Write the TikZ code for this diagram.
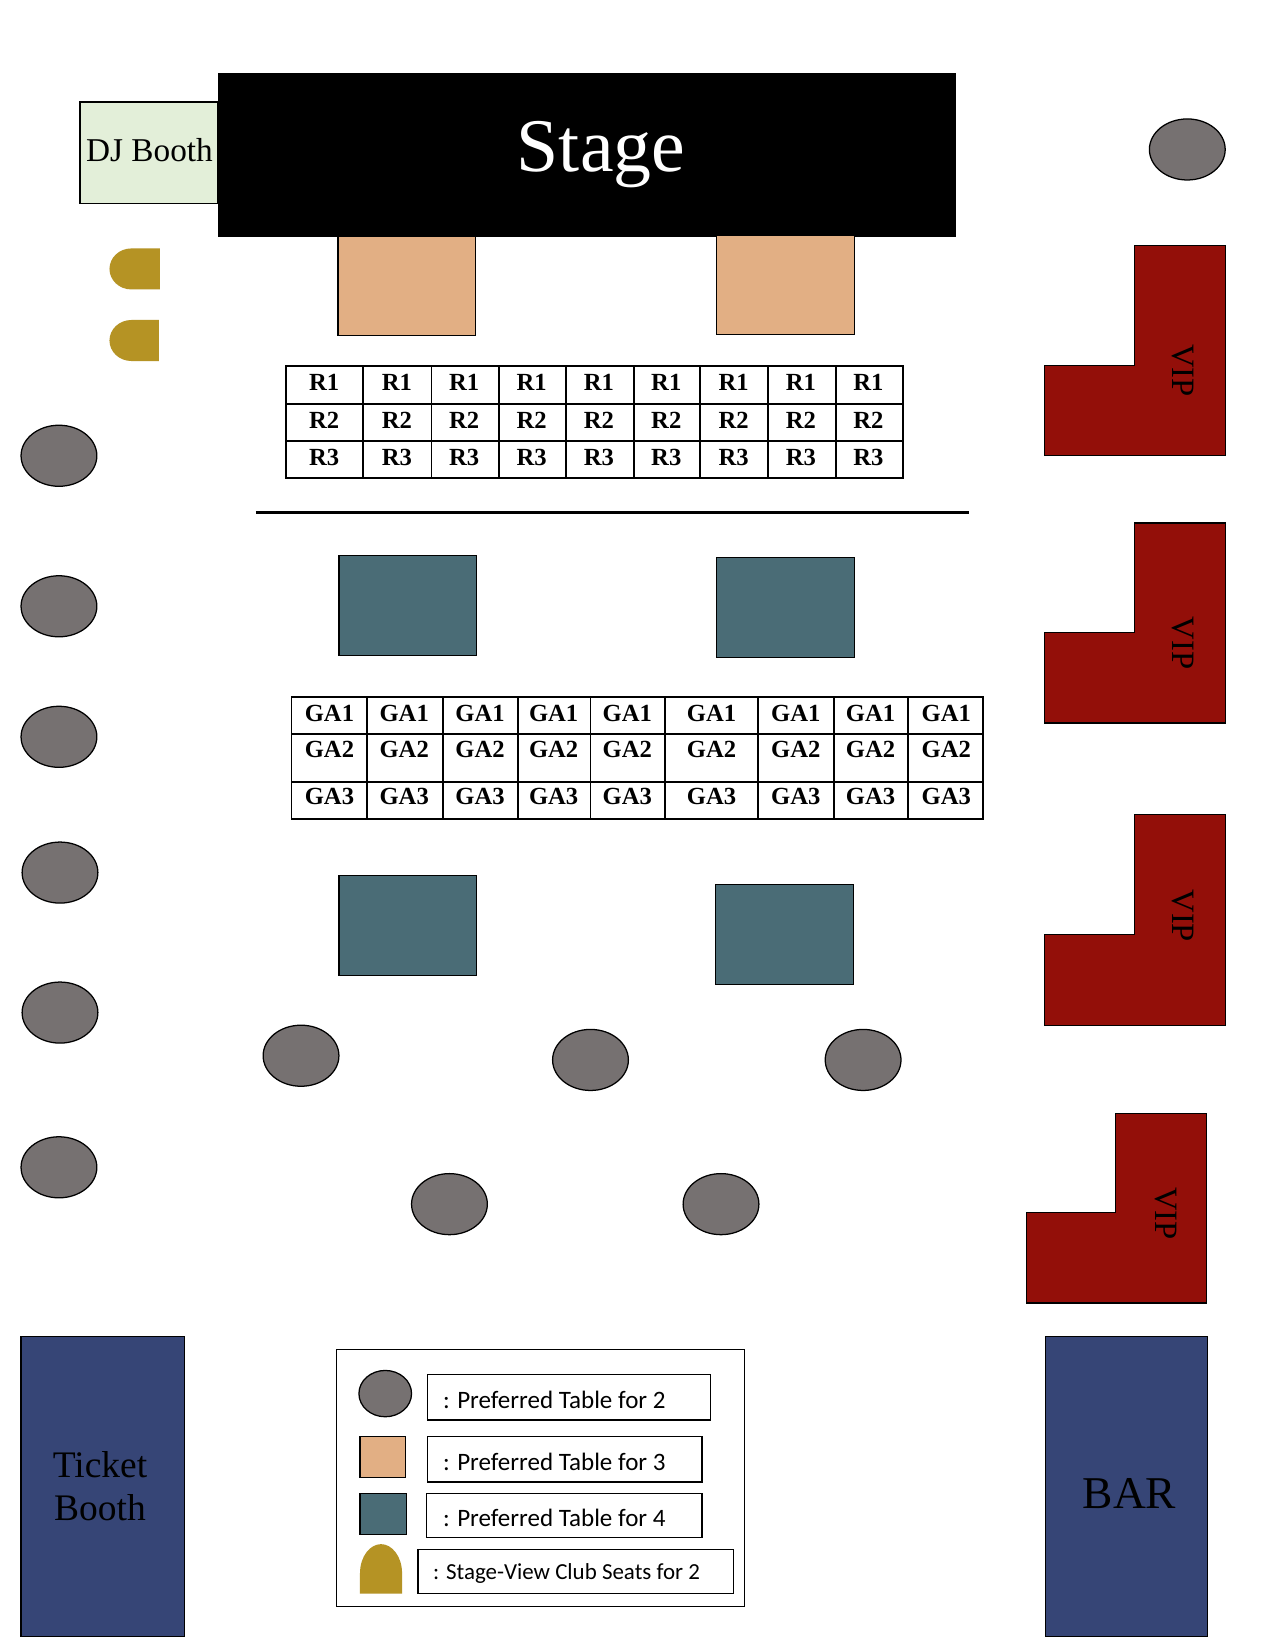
\documentclass[tikz,border=0pt]{standalone}
\usepackage{fontspec}
\setmainfont{Liberation Serif}
\newfontfamily\legendfont{Carlito}
\definecolor{greyT}{HTML}{767171}
\definecolor{peachT}{HTML}{E2AF84}
\definecolor{tealT}{HTML}{4A6C76}
\definecolor{goldT}{HTML}{B59324}
\definecolor{vipT}{HTML}{930F09}
\definecolor{navyT}{HTML}{364576}
\definecolor{djT}{HTML}{E3EFD9}
\newcommand{\fs}[1]{\fontsize{#1}{#1}\selectfont}
\tikzset{
  x=0.5pt, y=-0.5pt,
  edge/.style={draw=black, line width=0.6pt},
  tbl/.style={draw=black, line width=0.85pt},
  tabletwo/.style={edge, fill=greyT},
  tablethree/.style={edge, fill=peachT},
  tablefour/.style={edge, fill=tealT},
  seat/.style={fill=goldT},
  vip/.style={edge, fill=vipT},
  navy/.style={edge, fill=navyT},
  celltxt/.style={inner sep=0pt, font=\fs{11.7}\bfseries},
  viptxt/.style={inner sep=0pt, rotate=-90, font=\fs{15.5}},
  legtxt/.style={inner sep=0pt, anchor=west, font=\legendfont\fs{11.9}},
}
\begin{document}
\begin{tikzpicture}
\useasboundingbox (0,0) rectangle (1211.3,1567.6);
\fill[white] (0,0) rectangle (1211.3,1567.6);

% DJ booth and stage
\draw[edge, fill=djT] (76,97) rectangle (207,193);
\node[inner sep=0pt, font=\fs{15.8}] (dj) at (142,142.5) {DJ Booth};
\fill[black] (207,69) rectangle (908,225);
\node[inner sep=0pt, text=white, font=\fs{36}] (stage) at (571,147) {Stage};

% tables for 3
\draw[tablethree] (321,225) rectangle (452,319);
\draw[tablethree] (681,224) rectangle (812,318);

% tables for 4
\draw[tablefour] (322,528) rectangle (453,623);
\draw[tablefour] (681,530) rectangle (812,625);
\draw[tablefour] (322,832) rectangle (453,927);
\draw[tablefour] (680,840) rectangle (811,935);

% tables for 2
\foreach \cx/\cy in {1128/142, 56/433, 56/576, 56/700, 57/829, 57/962, 56/1109, 286/1003, 561/1007, 820/1007, 427/1144, 685/1144}
  \draw[tabletwo] (\cx,\cy) ellipse [x radius=36, y radius=29];

% club seats
\fill[seat] (152,236) -- (125,236) .. controls (113,236) and (104,245) .. (104,255.5) .. controls (104,266) and (113,275) .. (125,275) -- (152,275) -- cycle;
\fill[seat] (151,304) -- (125,304) .. controls (113,304) and (104,313) .. (104,323.5) .. controls (104,334) and (113,343) .. (125,343) -- (151,343) -- cycle;

% R table
\draw[tbl] (272,348) rectangle (858,454);
\draw[tbl] (272,384) -- (858,384) (272,419) -- (858,419);
\foreach \lx in {345,410,474,538,602,665,730,794}
  \draw[tbl] (\lx,348) -- (\lx,454);
\foreach \tx in {308,377,441,505,569,633,697,761,825} {
  \node[celltxt] at (\tx,363) {R1};
  \node[celltxt] at (\tx,399) {R2};
  \node[celltxt] at (\tx,434.5) {R3};
}

% divider
\draw[line width=1.5pt] (243,487) -- (921,487);

% GA table
\draw[tbl] (277,662) rectangle (934,778);
\draw[tbl] (277,697) -- (934,697) (277,743) -- (934,743);
\foreach \lx in {349,421,492,561,632,720,792,863}
  \draw[tbl] (\lx,662) -- (\lx,778);
\foreach \tx in {313,384,456,526,596,676,756,827,899} {
  \node[celltxt] at (\tx,677.5) {GA1};
  \node[celltxt] at (\tx,712.5) {GA2};
  \node[celltxt] at (\tx,756.5) {GA3};
}

% VIP booths
\draw[vip] (1078,233) -- (1164,233) -- (1164,433) -- (992,433) -- (992,347) -- (1078,347) -- cycle;
\node[viptxt] (vipa) at (1124,352) {VIP};
\draw[vip] (1078,497) -- (1164,497) -- (1164,687) -- (992,687) -- (992,601) -- (1078,601) -- cycle;
\node[viptxt] (vipb) at (1124,611) {VIP};
\draw[vip] (1078,774) -- (1164,774) -- (1164,974) -- (992,974) -- (992,888) -- (1078,888) -- cycle;
\node[viptxt] (vipc) at (1124,870) {VIP};
\draw[vip] (1060,1058) -- (1146,1058) -- (1146,1238) -- (975,1238) -- (975,1152) -- (1060,1152) -- cycle;
\node[viptxt] (vipd) at (1108,1153) {VIP};

% ticket booth and bar
\draw[navy] (20,1270) rectangle (175,1555);
\node[inner sep=0pt, font=\fs{17.8}] (ticketa) at (95,1391.5) {Ticket};
\node[inner sep=0pt, font=\fs{17.8}] (ticketb) at (95,1432.5) {Booth};
\draw[navy] (993,1270) rectangle (1147,1555);
\node[inner sep=0pt, font=\fs{21.6}] (bar) at (1073,1419) {BAR};

% legend
\draw[edge] (320,1282) rectangle (707,1526);
\draw[tabletwo] (366,1324) ellipse [x radius=25, y radius=22];
\draw[tablethree] (342,1365) rectangle (385,1404);
\draw[tablefour] (342,1419) rectangle (386,1458);
\fill[seat] (342,1514) -- (342,1495) .. controls (342,1478) and (352,1467) .. (362,1467) .. controls (372,1467) and (382,1478) .. (382,1495) -- (382,1514) -- cycle;
\draw[edge] (406,1306) rectangle (675,1349);
\draw[edge] (406,1365) rectangle (667,1408);
\draw[edge] (405,1419) rectangle (667,1461);
\draw[edge] (397,1472) rectangle (697,1514);
\node[legtxt] (lega) at (420.5,1329.5) {: Preferred Table for 2};
\node[legtxt] (legb) at (420.5,1388.5) {: Preferred Table for 3};
\node[legtxt] (legc) at (420.5,1442.5) {: Preferred Table for 4};
\node[legtxt, font=\legendfont\fs{10.9}] (legd) at (411,1494.5) {: Stage-View Club Seats for 2};
\end{tikzpicture}
\end{document}
